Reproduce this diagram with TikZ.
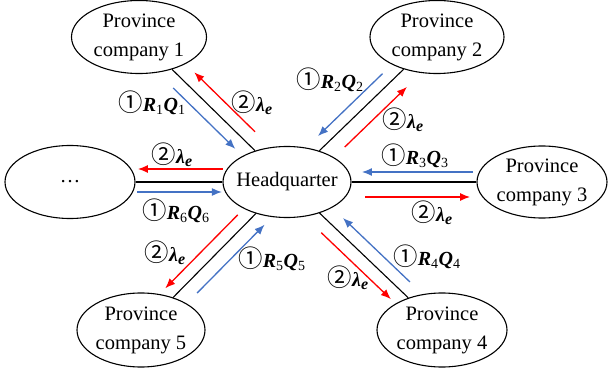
\documentclass[tikz,border=0pt]{standalone}
\usepackage{fontspec}
\setmainfont{Liberation Serif}
\newfontfamily\circfont[Scale=1.22]{Noto Sans CJK SC}
\usetikzlibrary{arrows.meta,calc,shapes.geometric}

% circled step numbers and the two kinds of flow labels
\newcommand\circone{{\circfont ①}}
\newcommand\circtwo{{\circfont ②}}
\newcommand\rqlab[1]{\circone\textbf{\textit{R}}\textsubscript{#1}\textbf{\textit{Q}}\textsubscript{#1}}
\newcommand\lamlab{\circtwo{\bfseries\itshape λ\raisebox{-0.35ex}{\fontsize{16}{16}\selectfont e}}}

% flow arrow parallel to the link #2--#3, from fraction #4 to #5, shifted sideways by #6 pt
\newcommand\flow[6]{\draw[#1] ($(#2)!#4!(#3)!#6pt!-90:(#3)$) -- ($(#2)!#5!(#3)!#6pt!-90:(#3)$);}

\definecolor{flowblue}{RGB}{68,114,196}
\definecolor{flowred}{RGB}{255,0,0}

\tikzset{
  unit/.style={ellipse, draw, line width=1.1pt, inner sep=-15pt, align=center,
    font=\fontsize{20.5}{29}\selectfont, minimum width=132pt, minimum height=73pt},
  link/.style={line width=1.1pt, black},
  upflow/.style={line width=1.3pt, flowblue, -{Latex[length=10pt,width=8pt]}},
  downflow/.style={line width=1.3pt, flowred, -{Latex[length=10pt,width=8pt]}},
  flowtext/.style={font=\fontsize{20}{24}\selectfont, inner sep=0pt}
}

\begin{document}
\begin{tikzpicture}[x=1pt, y=-1pt]
\useasboundingbox (0,0) rectangle (608,369);

% units
\node[unit, minimum width=128pt, minimum height=71pt] (hq) at (287,182) {Headquarter};
\node[unit, minimum width=135pt] (c1) at (139,37) {Province\\company 1};
\node[unit, minimum width=134pt] (c2) at (437,37) {Province\\company 2};
\node[unit, minimum width=130pt, minimum height=72pt] (c3) at (542,182) {Province\\company 3};
\node[unit, minimum width=130pt, minimum height=74pt] (c4) at (442,330) {Province\\company 4};
\node[unit, minimum width=128pt, minimum height=74pt] (c5) at (141,330) {Province\\company 5};
\node[unit, minimum width=130pt] (c6) at (70,182) {…};

% links
\foreach \c in {c1,c2,c3,c4,c5,c6} \draw[link] (\c) -- (hq);

% flows towards the headquarter (blue) and back (red)
\flow{upflow}{c1}{hq}{0.29}{0.71}{12.5}
\flow{downflow}{c1}{hq}{0.72}{0.31}{-13.5}
\flow{upflow}{c2}{hq}{0.31}{0.74}{11.5}
\flow{downflow}{c2}{hq}{0.685}{0.27}{-15}
\flow{upflow}{c3}{hq}{0.27}{0.706}{10}
\flow{downflow}{c3}{hq}{0.694}{0.282}{-15}
\flow{upflow}{c4}{hq}{0.263}{0.695}{12.6}
\flow{downflow}{c4}{hq}{0.721}{0.272}{-13}
\flow{upflow}{c5}{hq}{0.316}{0.778}{14}
\flow{downflow}{c5}{hq}{0.721}{0.225}{-12}
\flow{upflow}{c6}{hq}{0.309}{0.70}{10}
\flow{downflow}{c6}{hq}{0.705}{0.313}{-13}

% flow labels
\node[flowtext] (r1) at (152,103) {\rqlab{1}};
\node[flowtext] (l1) at (252,103) {\lamlab};
\node[flowtext] (r2) at (330,80) {\rqlab{2}};
\node[flowtext] (l2) at (403,120) {\lamlab};
\node[flowtext] (r3) at (415,156) {\rqlab{3}};
\node[flowtext] (l3) at (432,213) {\lamlab};
\node[flowtext] (r4) at (427,257) {\rqlab{4}};
\node[flowtext] (l4) at (348,278) {\lamlab};
\node[flowtext] (r5) at (272,259) {\rqlab{5}};
\node[flowtext] (l5) at (165,253) {\lamlab};
\node[flowtext] (r6) at (176,211) {\rqlab{6}};
\node[flowtext] (l6) at (172,155) {\lamlab};
\end{tikzpicture}
\end{document}
